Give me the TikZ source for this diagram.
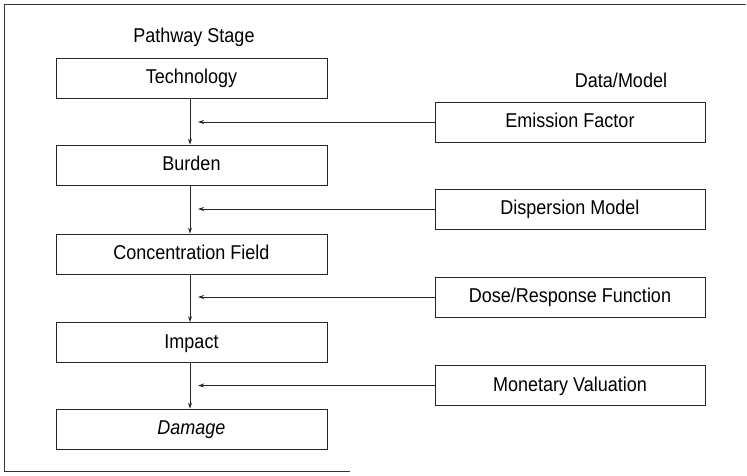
\documentclass[tikz,border=0pt]{standalone}
\usepackage{fontspec}
\setmainfont{Liberation Sans}[FakeStretch=0.9]
\usetikzlibrary{arrows.meta}
\begin{document}
\begin{tikzpicture}[x=1pt,y=-1pt,
  stagebox/.style={draw=black!85,line width=0.8pt,minimum width=271pt,minimum height=40pt,inner sep=0pt,
    font=\fontsize{20}{23}\selectfont,text height=14.2pt,text depth=3.0pt},
  databox/.style={stagebox,minimum width=270pt},
  title/.style={anchor=base,font=\fontsize{20}{23}\selectfont},
  conn/.style={draw=black!85,line width=0.8pt,-{Stealth[length=6pt,width=4pt]}},
  frame/.style={draw=black!80,line width=0.9pt}]
\useasboundingbox (0,0) rectangle (747,475);
% frame
\coordinate (f1) at (746,4);
\coordinate (f2) at (4,4);
\coordinate (f3) at (4,471);
\coordinate (f4) at (350,471);
\draw[frame] (f1) -- (f2) -- (f3) -- (f4);
% titles
\node[title] (tp) at (194,42) {Pathway Stage};
\node[title] (td) at (621,87) {Data/Model};
% stages
\node[stagebox] (tech) at (191.5,78) {Technology};
\node[stagebox] (burd) at (191.5,165) {Burden};
\node[stagebox] (conc) at (191.5,254) {Concentration Field};
\node[stagebox] (imp) at (191.5,342.5) {Impact};
\node[stagebox] (dam) at (191.5,429) {\itshape Damage};
% data
\node[databox] (emis) at (570,122) {Emission Factor};
\node[databox] (disp) at (570,209) {Dispersion Model};
\node[databox] (dose) at (570,297) {Dose/Response Function};
\node[databox] (mone) at (570,385.5) {Monetary Valuation};
% vertical arrows
\draw[conn] (tech.south -| 190,0) -- (burd.north -| 190,0);
\draw[conn] (burd.south -| 190,0) -- (conc.north -| 190,0);
\draw[conn] (conc.south -| 190,0) -- (imp.north -| 190,0);
\draw[conn] (imp.south -| 190,0) -- (dam.north -| 190,0);
% horizontal arrows
\coordinate (e1) at (198,122);
\coordinate (e2) at (198,209);
\coordinate (e3) at (198,297);
\coordinate (e4) at (198,385.5);
\draw[conn] (emis.west) -- (e1);
\draw[conn] (disp.west) -- (e2);
\draw[conn] (dose.west) -- (e3);
\draw[conn] (mone.west) -- (e4);
\end{tikzpicture}
\end{document}
